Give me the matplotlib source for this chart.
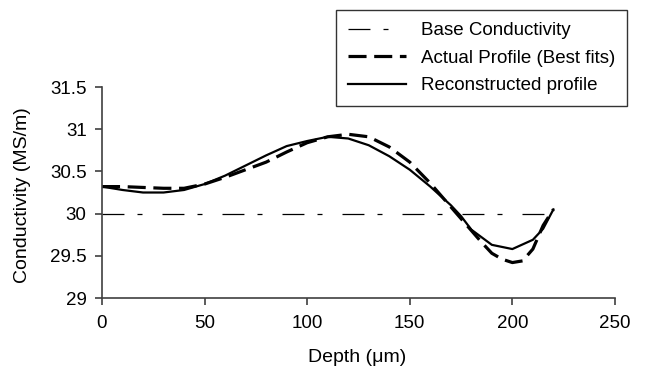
import matplotlib

matplotlib.use("Agg")
import matplotlib.pyplot as plt
from matplotlib.ticker import FuncFormatter

# ---- data ----
depth_rec = [0, 10, 20, 30, 40, 50, 60, 70, 80, 90, 100, 110, 120, 130, 140,
             150, 160, 170, 175, 180, 190, 200, 210, 215, 220]
cond_rec = [30.32, 30.28, 30.25, 30.25, 30.28, 30.35, 30.45, 30.57, 30.69, 30.80,
            30.86, 30.91, 30.89, 30.81, 30.68, 30.52, 30.32, 30.10, 29.97, 29.81,
            29.63, 29.58, 29.69, 29.82, 30.05]

depth_act = [0, 10, 20, 30, 40, 50, 60, 70, 80, 90, 100, 110, 120, 130, 140,
             150, 160, 170, 175, 180, 185, 190, 195, 200, 205, 210, 215, 220]
cond_act = [30.32, 30.32, 30.31, 30.30, 30.30, 30.35, 30.43, 30.52, 30.61, 30.73,
            30.84, 30.91, 30.94, 30.91, 30.79, 30.61, 30.36, 30.08, 29.94, 29.80,
            29.66, 29.53, 29.46, 29.42, 29.44, 29.58, 29.86, 30.05]

depth_base = [0, 220]
cond_base = [30, 30]

xticks = [0, 50, 100, 150, 200, 250]
yticks = [29, 29.5, 30, 30.5, 31, 31.5]

plt.rcParams["font.family"] = ["Liberation Sans", "DejaVu Sans"]
plt.rcParams["lines.scale_dashes"] = False

fig = plt.figure(figsize=(6.48, 3.69), dpi=100)
ax = fig.add_axes([0.1574, 0.1924, 0.7916, 0.5718])

ax.plot(depth_base, cond_base, color="black", lw=0.9,
        linestyle=(0, (15.8, 9.4, 3.6, 14.4)), label="Base Conductivity")
ax.plot(depth_act, cond_act, color="black", lw=2.3,
        linestyle=(0, (13, 5.5)), label="Actual Profile (Best fits)")
ax.plot(depth_rec, cond_rec, color="black", lw=1.6,
        label="Reconstructed profile")

ax.set_xlim(0, 250)
ax.set_ylim(29, 31.5)
ax.set_xticks(xticks)
ax.set_yticks(yticks)
ax.yaxis.set_major_formatter(FuncFormatter(lambda v, p: f"{v:g}"))
ax.tick_params(direction="out", length=5, width=1.2, labelsize=13.5,
               colors="#404040", labelcolor="black")
ax.tick_params(axis="y", pad=6)
ax.tick_params(axis="x", pad=7)
for s in ("top", "right"):
    ax.spines[s].set_visible(False)
for s in ("left", "bottom"):
    ax.spines[s].set_color("#404040")
    ax.spines[s].set_linewidth(1.2)

fig.text(357 / 648, 1 - 358 / 369, "Depth (\u03bcm)", fontsize=14,
         ha="center", va="center")
fig.text(23 / 648, 1 - 195 / 369, "Conductivity (MS/m)", fontsize=14,
         ha="center", va="center", rotation=90)

leg = fig.legend(loc="upper right", bbox_to_anchor=(0.9676, 0.9729),
                 borderaxespad=0, fontsize=13.5, frameon=True, fancybox=False,
                 edgecolor="black", handlelength=3.05, borderpad=0.65,
                 labelspacing=0.55, handletextpad=0.8)
leg.get_frame().set_linewidth(1.0)

fig.savefig("out.png", dpi=100)
